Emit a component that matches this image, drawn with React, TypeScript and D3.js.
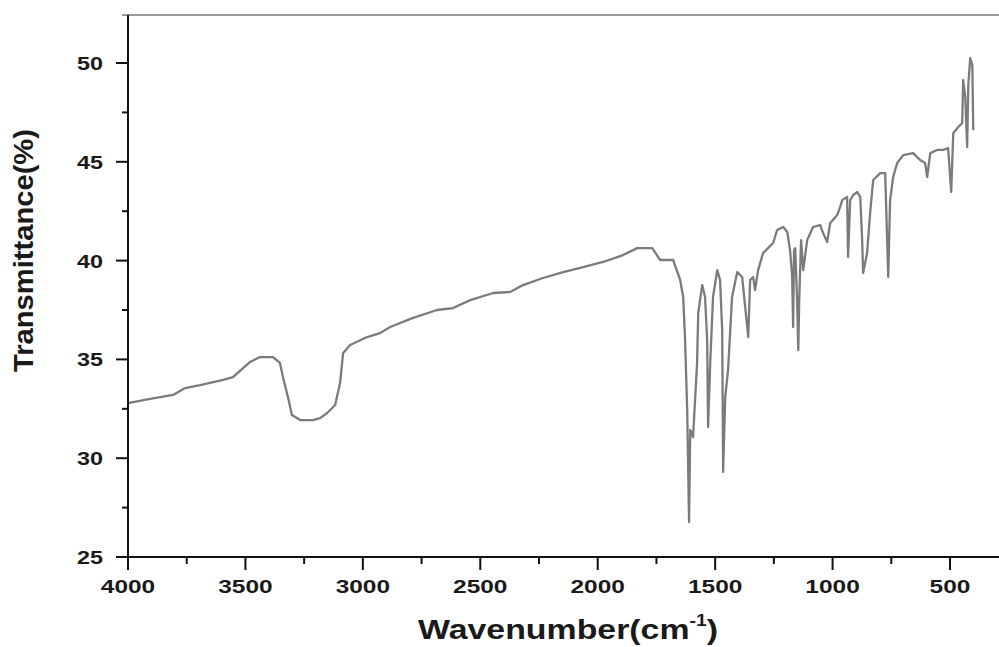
import React from "react";
import * as d3 from "d3";

// Spectrum (wavenumber cm-1, transmittance %)
const wavenumbers = [
  4000, 3906, 3808, 3757, 3693, 3595, 3553, 3510, 3480, 3438, 3382, 3353, 3340, 3319, 3302, 3267,
  3212, 3182, 3152, 3118, 3097, 3084, 3054, 2982, 2927, 2884, 2786, 2684, 2616, 2543, 2445, 2373,
  2318, 2233, 2147, 2062, 1977, 1892, 1832, 1768, 1734, 1679, 1649, 1636, 1628, 1619, 1611, 1606,
  1594, 1577, 1572, 1555, 1543, 1534, 1530, 1521, 1509, 1491, 1479, 1470, 1466, 1457, 1445, 1428,
  1406, 1385, 1372, 1359, 1351, 1338, 1330, 1317, 1296, 1253, 1236, 1210, 1193, 1181, 1172, 1168,
  1164, 1159, 1151, 1146, 1142, 1134, 1125, 1108, 1083, 1053, 1040, 1023, 1010, 980, 968, 959,
  938, 934, 925, 912, 895, 882, 874, 870, 853, 840, 827, 797, 776, 763, 755, 742,
  725, 699, 657, 627, 606, 597, 584, 555, 529, 508, 495, 486, 465, 448, 444, 435,
  427, 422, 414, 405, 401,
];
const transmittance = [
  32.79, 33.0, 33.2, 33.55, 33.7, 33.96, 34.1, 34.56, 34.87, 35.12, 35.12, 34.82, 34.1, 33.1, 32.19, 31.93,
  31.93, 32.03, 32.29, 32.69, 33.8, 35.32, 35.73, 36.13, 36.33, 36.64, 37.1, 37.5, 37.6, 38.0, 38.36, 38.41,
  38.76, 39.12, 39.42, 39.67, 39.93, 40.28, 40.63, 40.63, 40.03, 40.03, 39.02, 38.16, 35.98, 32.44, 26.77, 31.43,
  31.07, 34.82, 37.35, 38.76, 38.16, 35.98, 31.58, 34.82, 38.16, 39.52, 39.02, 36.49, 29.3, 33.1, 34.46, 38.16,
  39.42, 39.17, 37.65, 36.13, 39.02, 39.17, 38.51, 39.52, 40.38, 40.89, 41.55, 41.7, 41.45, 40.53, 39.17, 36.64,
  40.53, 40.63, 38.0, 35.47, 38.0, 41.04, 39.52, 41.04, 41.7, 41.8, 41.39, 40.94, 41.9, 42.31, 42.71, 43.06,
  43.22, 40.18, 43.06, 43.32, 43.47, 43.22, 41.04, 39.37, 40.38, 42.41, 44.08, 44.43, 44.43, 39.17, 43.06, 44.23,
  44.94, 45.34, 45.44, 45.09, 44.94, 44.23, 45.44, 45.6, 45.6, 45.7, 43.47, 46.45, 46.76, 46.96, 49.14, 48.28,
  45.75, 48.9, 50.25, 49.9, 46.6,
];
const xTicks = [4000, 3500, 3000, 2500, 2000, 1500, 1000, 500];
const xMinorTicks = [3750, 3250, 2750, 2250, 1750, 1250, 750];
const yTicks = [25, 30, 35, 40, 45, 50];
const yMinorTicks = [27.5, 32.5, 37.5, 42.5, 47.5];

const W = 999;
const H = 647;

export default function App() {
  const x = d3.scaleLinear().domain([4000, 500]).range([128, 950]);
  const y = d3.scaleLinear().domain([25, 50]).range([557, 63]);
  const pts = wavenumbers.map((w, i) => [w, transmittance[i]] as [number, number]);
  const line = d3
    .line<[number, number]>()
    .x((d) => x(d[0]))
    .y((d) => y(d[1]));
  const font = "'Liberation Sans', Arial, sans-serif";
  const x0 = x(4000);
  const xEnd = W;
  const yBase = y(25);
  const yTop = 15;
  return (
    <svg
      width={W}
      height={H}
      style={{ position: "absolute", left: 0, top: 0, background: "#fff" }}
      fontFamily={font}
    >
      <rect x={0} y={0} width={W} height={H} fill="#fff" />
      {/* top frame */}
      <line x1={122} x2={xEnd} y1={yTop} y2={yTop} stroke="#777" strokeWidth={1.5} />
      {/* spectrum */}
      <path d={line(pts) || ""} fill="none" stroke="#7b7b7b" strokeWidth={2.3} strokeLinejoin="round" />
      {/* left axis */}
      <line x1={x0} x2={x0} y1={yTop} y2={yBase + 1} stroke="#111" strokeWidth={2} />
      {yTicks.map((t) => (
        <g key={"yt" + t}>
          <line x1={x0 - 12} x2={x0} y1={y(t)} y2={y(t)} stroke="#111" strokeWidth={2} />
          <text
            x={103}
            y={y(t) + 7}
            textAnchor="end"
            fontWeight="bold"
            fontSize={19}
            fill="#1a1a1a"
            textLength={26}
            lengthAdjust="spacingAndGlyphs"
          >
            {t}
          </text>
        </g>
      ))}
      {yMinorTicks.map((t) => (
        <line key={"ym" + t} x1={x0 - 6} x2={x0} y1={y(t)} y2={y(t)} stroke="#111" strokeWidth={2} />
      ))}
      {/* bottom axis */}
      <line x1={x0 - 12} x2={xEnd} y1={yBase} y2={yBase} stroke="#111" strokeWidth={2} />
      {xTicks.map((t) => {
        const s = String(t);
        return (
          <g key={"xt" + t}>
            <line x1={x(t)} x2={x(t)} y1={yBase} y2={yBase + 13} stroke="#111" strokeWidth={2} />
            <text
              x={x(t)}
              y={593}
              textAnchor="middle"
              fontWeight="bold"
              fontSize={19}
              fill="#1a1a1a"
              textLength={s.length * 13.6}
              lengthAdjust="spacingAndGlyphs"
            >
              {s}
            </text>
          </g>
        );
      })}
      {xMinorTicks.map((t) => (
        <line key={"xm" + t} x1={x(t)} x2={x(t)} y1={yBase} y2={yBase + 7} stroke="#111" strokeWidth={2} />
      ))}
      {/* axis titles */}
      <text
        x={418}
        y={639}
        fontWeight="bold"
        fontSize={28}
        fill="#1a1a1a"
        textLength={300}
        lengthAdjust="spacingAndGlyphs"
      >
        Wavenumber(cm
        <tspan fontSize={16} dy={-13}>-1</tspan>
        <tspan dy={13}>)</tspan>
      </text>
      <text
        transform={`translate(33, ${372}) rotate(-90)`}
        x={0}
        y={0}
        fontWeight="bold"
        fontSize={28}
        fill="#1a1a1a"
        textLength={243}
        lengthAdjust="spacingAndGlyphs"
      >
        Transmittance(%)
      </text>
    </svg>
  );
}
